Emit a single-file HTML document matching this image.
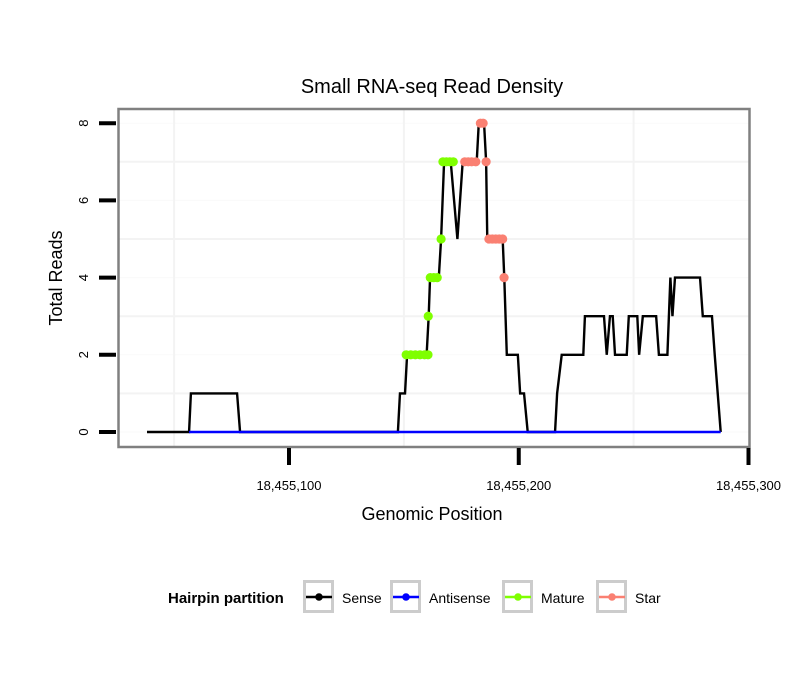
<!DOCTYPE html>
<html><head><meta charset="utf-8"><style>
body{margin:0;background:#fff;}
svg text{font-family:"Liberation Sans",Arial,sans-serif;}
</style></head><body>
<svg id="chart" width="810" height="690" xmlns="http://www.w3.org/2000/svg">
<rect width="810" height="690" fill="#fff"/>
<text x="432" y="93" font-size="20" text-anchor="middle">Small RNA-seq Read Density</text>
<g id="grid"></g>
<g id="series"></g>
<rect x="118.5" y="109" width="631" height="338" fill="none" stroke="#808080" stroke-width="2.5"/>
<g id="axes"></g>
<text x="432" y="520" font-size="18" text-anchor="middle">Genomic Position</text>
<text transform="translate(62,278) rotate(-90)" font-size="18" text-anchor="middle">Total Reads</text>
<g>
<text x="168" y="603" font-size="15" font-weight="bold">Hairpin partition</text>
<g id="legend"></g>
</g>
</svg>
<script>
const BASE = 18455000;
const xTicks = [18455100, 18455200, 18455300];
const xTickLabels = ["18,455,100", "18,455,200", "18,455,300"];
const yTicks = [0, 2, 4, 6, 8];
const senseX = [38.2,56.5,57.3,77.4,78.7,147.4,148.3,150.5,151.4,159.9,160.8,161.4,165.2,166.2,167.5,170.4,173.3,175.6,181.7,182.6,184.9,185.8,186.3,193.0,193.7,194.8,199.6,200.6,202.3,203.9,215.8,216.7,218.7,228.1,228.8,237.1,238.3,239.7,240.9,241.9,247.0,247.9,251.6,252.4,254.0,259.8,261.0,264.7,266.0,266.9,268.0,278.9,280.1,284.1,285.3,287.9];
const senseY = [0,0,1,1,0,0,1,1,2,2,3,4,4,5,7,7,5,7,7,8,8,7,5,5,4,2,2,1,1,0,0,1,2,2,3,3,2,3,3,2,2,3,3,2,3,3,2,2,4,3,4,4,3,3,2,0];
const antisenseX = [56.5, 287.9];
const antisenseY = [0, 0];
const matureX = [151,153,155,157,159,160.5,160.6,161.5,163,164.5,166.2,167,168.5,170,171.5];
const matureY = [2,2,2,2,2,2,3,4,4,4,5,7,7,7,7];
const starX = [176.5,178,179.5,181.3,183.3,184.5,185.8,187,188.5,190,191.5,193,193.6];
const starY = [7,7,7,7,8,8,7,5,5,5,5,5,4];

const NS = "http://www.w3.org/2000/svg";
const xs = v => 289 + (v - (v > 1000 ? 18455100 : 100)) * 2.2975;
const ys = v => 432 - v * 38.6;
function mk(tag, attrs, parent) {
  const e = document.createElementNS(NS, tag);
  for (const k in attrs) e.setAttribute(k, attrs[k]);
  parent.appendChild(e);
  return e;
}
const grid = document.getElementById('grid');
for (const v of [1,3,5,7]) {
  const l = mk('line', {x1:119, x2:749, y1:ys(v), y2:ys(v), stroke:'#f3f3f3', 'stroke-width':2}, grid);
  
  
}
for (const v of yTicks) {
  const l = mk('line', {x1:119, x2:749, y1:ys(v), y2:ys(v), stroke:'#fafafa', 'stroke-width':1}, grid);
  
  
}
for (const v of [18455050, 18455150, 18455250]) {
  const l = mk('line', {x1:xs(v), x2:xs(v), y1:110, y2:446, stroke:'#f3f3f3', 'stroke-width':2}, grid);
  
  
}
const ser = document.getElementById('series');
function line(X, Y, color, name) {
  const p = mk('polyline', {points: X.map((x,i)=>xs(BASE + x)+','+ys(Y[i])).join(' '), fill:'none', stroke:color, 'stroke-width':2.4, 'stroke-linejoin':'miter'}, ser);
  
  
}
line(senseX, senseY, '#000', 'sense-line');
line(antisenseX, antisenseY, '#0000ff', 'antisense-line');
function pts(X, Y, color, name) {
  X.forEach((x,i) => {
    const c = mk('circle', {cx:xs(BASE + x), cy:ys(Y[i]), r:4.6, fill:color}, ser);
    
    
  });
}
pts(matureX, matureY, '#7fff00', 'mature-point');
pts(starX, starY, '#fa8072', 'star-point');
const ax = document.getElementById('axes');
yTicks.forEach(v => {
  const t = mk('line', {x1:99, x2:116, y1:ys(v), y2:ys(v), stroke:'#000', 'stroke-width':4}, ax);
  
  
  const tx = mk('text', {transform:`translate(88,${ys(v)}) rotate(-90)`, 'font-size':13, 'text-anchor':'middle'}, ax);
  tx.textContent = v;
  
  
});
xTicks.forEach((v,i) => {
  const t = mk('line', {x1:xs(v), x2:xs(v), y1:448, y2:465, stroke:'#000', 'stroke-width':4}, ax);
  
  
  const tx = mk('text', {x:xs(v), y:490, 'font-size':13, 'text-anchor':'middle'}, ax);
  tx.textContent = xTickLabels[i];
  
  
});
const lg = document.getElementById('legend');
const legendNames = ['Sense','Antisense','Mature','Star'];
const legendColors = ['#000','#0000ff','#7fff00','#fa8072'];
const legendBoxX = [303, 390, 502, 596];
legendNames.forEach((n,i) => {
  const g = mk('g', {}, lg);
  
  
  const bx = legendBoxX[i];
  mk('rect', {x:bx+1.5, y:581.5, width:28, height:30, fill:'#fff', stroke:'#cccccc', 'stroke-width':3}, g);
  mk('line', {x1:bx+3, x2:bx+29, y1:597, y2:597, stroke:legendColors[i], 'stroke-width':2.4}, g);
  mk('circle', {cx:bx+16, cy:597, r:3.8, fill:legendColors[i]}, g);
  const t = mk('text', {x:bx+39, y:603, 'font-size':14}, g);
  t.textContent = n;
});
</script>
</body></html>
